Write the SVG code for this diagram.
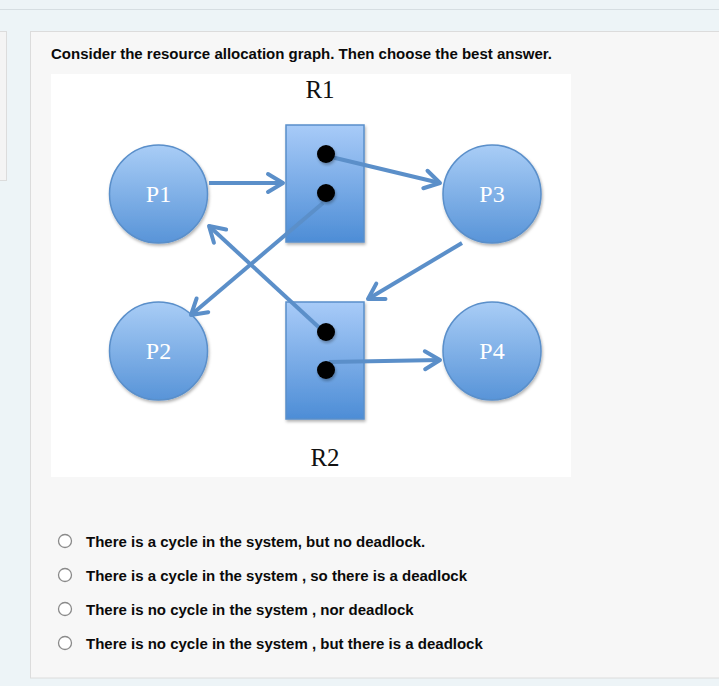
<svg xmlns="http://www.w3.org/2000/svg" width="719" height="686" viewBox="0 0 719 686">
<style>
.q{font-family:"Liberation Sans",Arial,sans-serif;font-weight:bold;font-size:15px;fill:#0a0a0a;}
.lbl{font-family:"Liberation Serif","Times New Roman",serif;font-size:25px;fill:#111;text-anchor:middle;}
.pl{font-family:"Liberation Serif","Times New Roman",serif;font-size:24px;fill:#fff;text-anchor:middle;}
.proc{fill:url(#gc);stroke:#5a8fca;stroke-width:1.5;filter:url(#sh);}
.res{fill:url(#gr);stroke:#5a8fca;stroke-width:1.5;filter:url(#sh);}
.dot{fill:#000;filter:url(#sh);}
.edge{stroke:#5b8fc9;stroke-width:4;fill:none;marker-end:url(#ah);}
.radio{fill:#fff;stroke:#8a8a8a;stroke-width:1.3;}
</style>
<defs>
<linearGradient id="gc" x1="0" y1="0" x2="0" y2="1">
<stop offset="0" stop-color="#a9cdf6"/>
<stop offset="1" stop-color="#5894d8"/>
</linearGradient>
<linearGradient id="gr" x1="0" y1="0" x2="0" y2="1">
<stop offset="0" stop-color="#a8cbf8"/>
<stop offset="1" stop-color="#4d8dd6"/>
</linearGradient>
<filter id="sh" x="-20%" y="-20%" width="140%" height="140%">
<feDropShadow dx="1" dy="2" stdDeviation="1.5" flood-color="#000" flood-opacity="0.3"/>
</filter>
<marker id="ah" markerUnits="userSpaceOnUse" orient="auto" markerWidth="40" markerHeight="40" viewBox="-20 -20 40 40" refX="0" refY="0" overflow="visible">
<path d="M-15,-9 L0,0 L-15,9" fill="none" stroke="#5b8fc9" stroke-width="4" stroke-linecap="round" stroke-linejoin="round"/>
</marker>
</defs>

<!-- page background -->
<rect x="0" y="0" width="719" height="686" fill="#edf4f7"/>
<line x1="0" y1="9.5" x2="719" y2="9.5" stroke="#d6dee2" stroke-width="1"/>
<rect x="-2" y="31.5" width="8.5" height="149" fill="#f4f4f4" stroke="#dcdcdc" stroke-width="1"/>
<rect x="30.5" y="31.5" width="700" height="646.5" fill="#f7f7f7" stroke="#dcdcdc" stroke-width="1"/>

<text class="q" x="51" y="59">Consider the resource allocation graph. Then choose the best answer.</text>

<!-- image area -->
<rect x="51" y="74" width="520" height="403" fill="#fff"/>

<text class="lbl" x="320" y="98">R1</text>
<text class="lbl" x="325" y="466">R2</text>

<g id="R1">
<rect class="res" x="286" y="125" width="78" height="117"/>
</g>
<g id="R2">
<rect class="res" x="286" y="302" width="78" height="117"/>
</g>
<g id="P1">
<circle class="proc" cx="158.5" cy="194" r="49"/>
<text class="pl" x="158.5" y="202">P1</text>
</g>
<g id="P3">
<circle class="proc" cx="492" cy="194" r="49"/>
<text class="pl" x="492" y="202">P3</text>
</g>
<g id="P2">
<circle class="proc" cx="158.5" cy="351" r="49"/>
<text class="pl" x="158.5" y="359">P2</text>
</g>
<g id="P4">
<circle class="proc" cx="492" cy="351" r="49"/>
<text class="pl" x="492" y="359">P4</text>
</g>

<g id="connectors">
<path class="edge" d="M209,183 L283,183"/>
<path class="edge" d="M327,156 L440,183"/>
<path class="edge" d="M323,203 L191,315"/>
<path class="edge" d="M325,333 L209,226"/>
<path class="edge" d="M462,243 L368,299"/>
<path class="edge" d="M329,362 L440,360"/>
</g>

<g id="R1-instances">
<circle class="dot" cx="326" cy="154" r="9"/>
<circle class="dot" cx="326" cy="193" r="9"/>
</g>
<g id="R2-instances">
<circle class="dot" cx="326" cy="332" r="9"/>
<circle class="dot" cx="326" cy="370" r="9"/>
</g>

<g id="options">
<circle class="radio" cx="65" cy="541" r="6.5"/>
<text class="q" x="86" y="547">There is a cycle in the system, but no deadlock.</text>
<circle class="radio" cx="65" cy="575" r="6.5"/>
<text class="q" x="86" y="581">There is a cycle in the system , so there is a deadlock</text>
<circle class="radio" cx="65" cy="609" r="6.5"/>
<text class="q" x="86" y="615">There is no cycle in the system , nor deadlock</text>
<circle class="radio" cx="65" cy="643" r="6.5"/>
<text class="q" x="86" y="649">There is no cycle in the system , but there is a deadlock</text>
</g>
</svg>
